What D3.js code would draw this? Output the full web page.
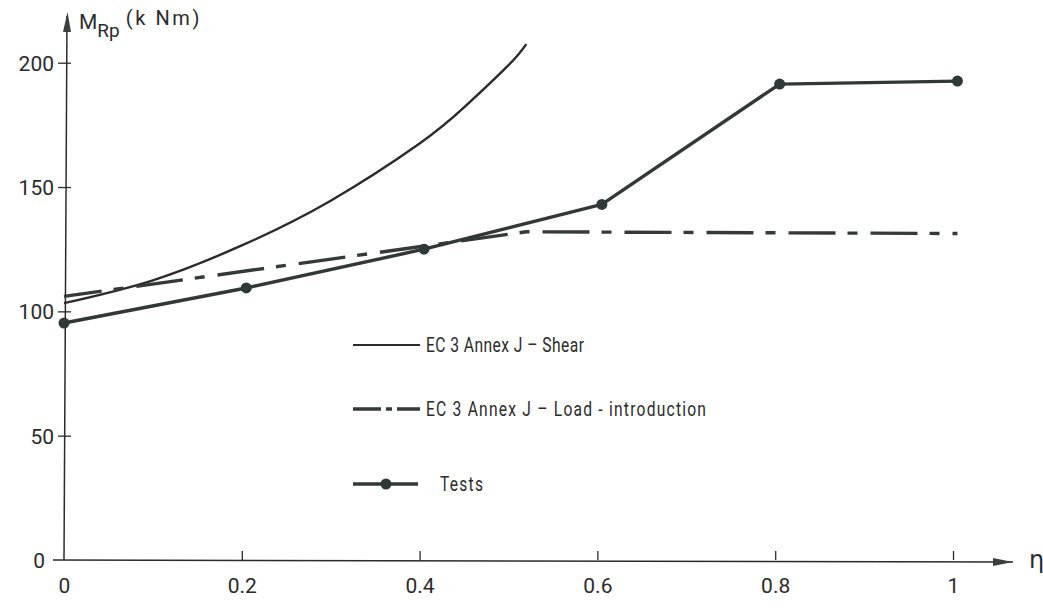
<!DOCTYPE html>
<html>
<head>
<meta charset="utf-8">
<script src="https://cdn.jsdelivr.net/npm/d3@7"></script>
<style>
  html, body { margin: 0; padding: 0; background: #fff; }
  svg { display: block; }
  text { font-family: Roboto, "DejaVu Sans", sans-serif; fill: #2b2b2b; }
</style>
</head>
<body>
<svg id="chart" width="1043" height="610"></svg>
<script>
// Moment resistance M_Rp (kNm) against shear ratio eta
const xTicks = [0, 0.2, 0.4, 0.6, 0.8, 1];
const xTickLabels = ["0", "0.2", "0.4", "0.6", "0.8", "1"];
const yTicks = [0, 50, 100, 150, 200];
const yTickLabels = ["0", "50", "100", "150", "200"];

// EC 3 Annex J - Shear (curve)
const shearEta = [0, 0.1, 0.2, 0.3, 0.4, 0.45, 0.5, 0.52];
const shearM   = [103.3, 112.5, 126.5, 144.5, 167.5, 182, 199, 207.5];

// EC 3 Annex J - Load-introduction (dash-dot)
const loadEta = [0, 0.52, 1.005];
const loadM   = [106, 132, 131.3];

// Tests
const testEta = [0, 0.205, 0.405, 0.605, 0.805, 1.005];
const testM   = [95.3, 109.4, 125, 143, 191.4, 192.6];

const legendLabels = ["EC 3 Annex J – Shear", "EC 3 Annex J – Load - introduction", "Tests"];

const svg = d3.select("#chart");
const ink = "#2b2b2b";
const dotInk = "#2f3a38";

const x = d3.scaleLinear().domain([0, 1]).range([64, 953]);
const y = d3.scaleLinear().domain([0, 200]).range([560, 62.7]);

// arrow head for the eta axis
const defs = svg.append("defs");
defs.append("marker").attr("id", "arrowX")
  .attr("viewBox", "0 0 20 10").attr("refX", 20).attr("refY", 5)
  .attr("markerWidth", 20).attr("markerHeight", 10)
  .attr("markerUnits", "userSpaceOnUse").attr("orient", "auto")
  .append("path").attr("d", "M0,1 L20,5 L0,9 Z").attr("fill", "#3a3f3e");

// x axis
const xAxis = d3.axisBottom(x).tickValues(xTicks).tickSize(-9).tickSizeOuter(0)
  .tickFormat((d, i) => xTickLabels[i]);
const gx = svg.append("g").attr("transform", `translate(0,${y(0)})`).call(xAxis);
gx.select(".domain").remove();
gx.selectAll(".tick line").attr("stroke", ink).attr("stroke-width", 1.3)
  .filter(d => d === 0).remove();
gx.selectAll(".tick text").attr("dy", "1.45em").style("font-size", "21px")
  .style("font-family", "Roboto, 'DejaVu Sans', sans-serif").attr("fill", ink);
svg.append("line")
  .attr("x1", 53).attr("x2", 1013).attr("y1", y(0)).attr("y2", y(0) + 2)
  .attr("stroke", ink).attr("stroke-width", 1.5)
  .attr("marker-end", "url(#arrowX)");
svg.append("text").attr("x", 1029).attr("y", y(0) + 8)
  .style("font-size", "24px").style("font-family", "'DejaVu Sans', sans-serif")
  .text("η");

// y axis
const yAxis = d3.axisLeft(y).tickValues(yTicks.filter(d => d > 0)).tickSize(0)
  .tickFormat(d => yTickLabels[yTicks.indexOf(d)]);
const gy = svg.append("g").attr("transform", `translate(${x(0)},0)`).call(yAxis);
gy.select(".domain").remove();
gy.selectAll(".tick").append("line").attr("x1", -6).attr("x2", 7)
  .attr("stroke", ink).attr("stroke-width", 1.3);
gy.selectAll(".tick text").attr("x", -10).attr("dy", "0.36em")
  .style("font-size", "21px").attr("fill", ink);
svg.append("text").attr("x", 45).attr("y", y(0)).attr("dy", "0.36em")
  .attr("text-anchor", "end").style("font-size", "21px").text(yTickLabels[0]);
svg.append("line")
  .attr("x1", x(0)).attr("x2", x(0) + 3).attr("y1", y(0)).attr("y2", 16)
  .attr("stroke", ink).attr("stroke-width", 1.5);
svg.append("path")
  .attr("d", `M${x(0) + 3.5},12 L${x(0) - 1},32 L${x(0) + 7},32 Z`)
  .attr("fill", "#3a3f3e");

// y axis title
const title = svg.append("text").attr("x", 79).attr("y", 29);
title.append("tspan").style("font-size", "21px").text("M");
title.append("tspan").attr("dy", 8).style("font-size", "19px").text("Rp");
title.append("tspan").attr("dx", 6).attr("dy", -12).style("font-size", "20px")
  .style("letter-spacing", "2.6px").text("(k Nm)");

// series
const shearPts = shearEta.map((e, i) => [e, shearM[i]]);
svg.append("path")
  .attr("d", d3.line().x(d => x(d[0])).y(d => y(d[1])).curve(d3.curveNatural)(shearPts))
  .attr("fill", "none").attr("stroke", ink).attr("stroke-width", 2.4);

const loadPts = loadEta.map((e, i) => [e, loadM[i]]);
svg.append("path")
  .attr("d", d3.line().x(d => x(d[0])).y(d => y(d[1]))(loadPts))
  .attr("fill", "none").attr("stroke", "#333a38").attr("stroke-width", 3.4)
  .attr("stroke-dasharray", "47,12,10,13").attr("stroke-dashoffset", 9);

const tests = testEta.map((e, i) => [e, testM[i]]);
svg.append("path")
  .attr("d", d3.line().x(d => x(d[0])).y(d => y(d[1]))(tests))
  .attr("fill", "none").attr("stroke", "#323836").attr("stroke-width", 3.4)
  .attr("stroke-linejoin", "round");
svg.selectAll("circle.test").data(tests).join("circle").attr("class", "test")
  .attr("cx", d => x(d[0])).attr("cy", d => y(d[1])).attr("r", 5.5)
  .attr("fill", dotInk);

// legend
const legX0 = 353, legX1 = 420, legTextX = [426, 426, 440];
const legY = [345, 409, 484];
const leg = svg.append("g");
leg.append("line").attr("x1", legX0).attr("x2", legX1).attr("y1", legY[0]).attr("y2", legY[0])
  .attr("stroke", ink).attr("stroke-width", 2);
leg.append("line").attr("x1", legX0).attr("x2", legX1).attr("y1", legY[1]).attr("y2", legY[1])
  .attr("stroke", "#333a38").attr("stroke-width", 3.4)
  .attr("stroke-dasharray", "28,5,6,5,40");
leg.append("line").attr("x1", legX0).attr("x2", legX1 - 2).attr("y1", legY[2]).attr("y2", legY[2])
  .attr("stroke", "#323836").attr("stroke-width", 3.4);
leg.append("circle").attr("cx", 386).attr("cy", legY[2]).attr("r", 5.5).attr("fill", dotInk);

// narrow lettering: glyphs squeezed horizontally, then spread to the label width
const squeeze = 0.78;
const legWidths = [158, 280, 43];
legendLabels.forEach((t, i) => {
  leg.append("text")
    .attr("transform", `translate(${legTextX[i]},${legY[i]}) scale(${squeeze},1)`)
    .attr("dy", "0.36em")
    .style("font-size", "20px")
    .attr("textLength", legWidths[i] / squeeze).attr("lengthAdjust", "spacing")
    .text(t);
});
</script>
</body>
</html>
